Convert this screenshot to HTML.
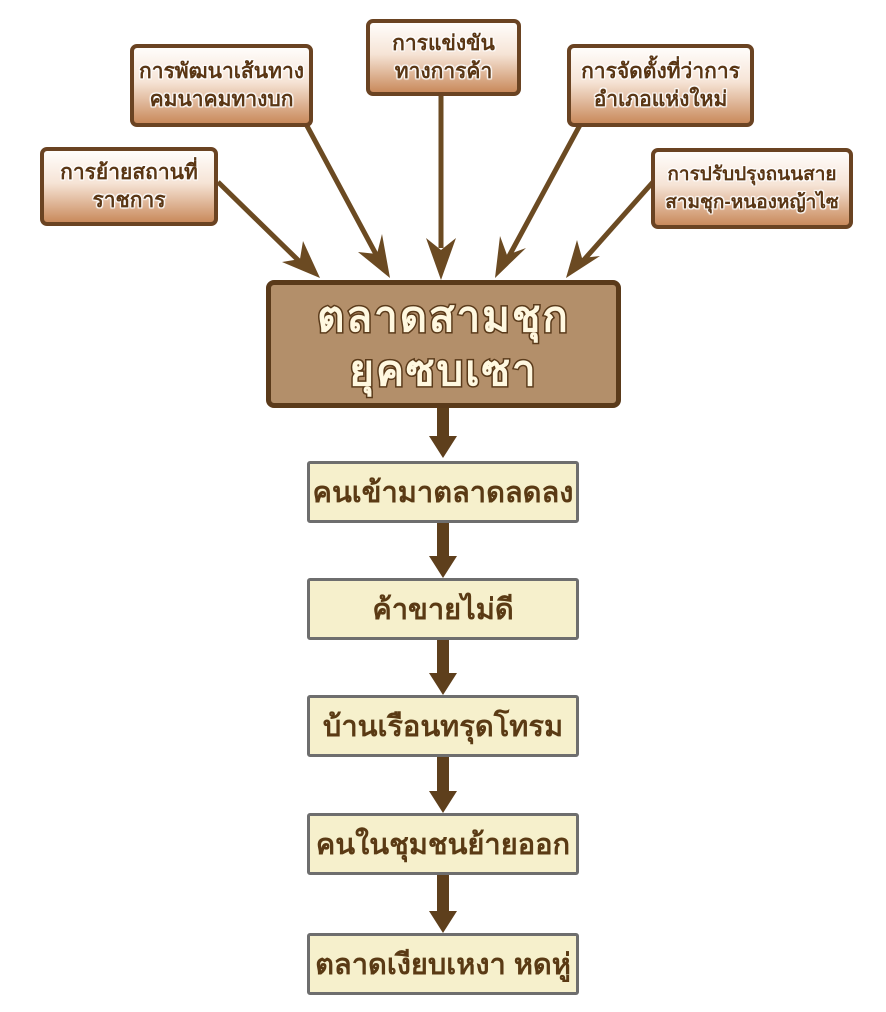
<!DOCTYPE html>
<html><head><meta charset="utf-8"><style>
body{margin:0;width:886px;height:1012px;background:#fff;position:relative;overflow:hidden;font-family:"Liberation Sans","Noto Sans CJK SC",sans-serif}
.t{position:absolute;box-sizing:border-box;border:4px solid #6a4322;border-radius:7px;background:linear-gradient(#fffdfb 0%,#f6e4d6 45%,#c98a5c 100%);display:flex;align-items:center;justify-content:center;text-align:center;font-weight:bold;font-size:21px;line-height:28px;color:#5a3614;text-shadow:0 0 2px #fff,0 0 2px #fff,1px 1px 1px #fff,-1px -1px 1px #fff,1px -1px 1px #fff,-1px 1px 1px #fff;white-space:nowrap}
.m{position:absolute;left:266px;top:280px;width:355px;height:128px;box-sizing:border-box;border:5px solid #5a3a1a;border-radius:8px;background:#b38f6a;display:flex;align-items:center;justify-content:center;text-align:center;font-weight:bold;font-size:42px;line-height:54px;color:#fff8e0;-webkit-text-stroke:3px #5a3a1a;paint-order:stroke fill;letter-spacing:2px}
.b{position:absolute;left:307px;width:272px;height:62px;box-sizing:border-box;border:3px solid #6e6e6e;border-radius:3px;background:#f6f0cc;display:flex;align-items:center;justify-content:center;font-weight:bold;font-size:29px;color:#5a3a14;white-space:nowrap}
svg{position:absolute;left:0;top:0}
</style></head><body>
<svg width="886" height="1012">
<g stroke="#6b4a22" stroke-width="5" fill="none">
<line x1="218" y1="182" x2="300" y2="262"/>
<line x1="306" y1="124" x2="378" y2="258"/>
<line x1="441" y1="94" x2="441" y2="248"/>
<line x1="580" y1="125" x2="508" y2="258"/>
<line x1="653" y1="182" x2="582" y2="262"/>
</g>
<g fill="#6b4a22">
<path d="M320 278 L282 262 L300 259 L303 241 Z"/>
<path d="M390 278 L358 252 L377 254 L382 234 Z"/>
<path d="M441 280 L426 238 L441 250 L456 238 Z"/>
<path d="M495 278 L500 236 L507 255 L526 248 Z"/>
<path d="M566 278 L577 240 L582 258 L600 256 Z"/>
</g>
<g fill="#5e3f1c">
<rect x="437" y="407" width="12" height="30"/><path d="M429 436 L457 436 L443 458 Z"/>
<rect x="437" y="522" width="12" height="36"/><path d="M429 556 L457 556 L443 578 Z"/>
<rect x="437" y="640" width="12" height="36"/><path d="M429 673 L457 673 L443 695 Z"/>
<rect x="437" y="757" width="12" height="36"/><path d="M429 791 L457 791 L443 813 Z"/>
<rect x="437" y="874" width="12" height="38"/><path d="M429 911 L457 911 L443 933 Z"/>
</g>
</svg>
<div class="t" style="left:40px;top:147px;width:178px;height:79px">การย้ายสถานที่<br>ราชการ</div>
<div class="t" style="left:130px;top:44px;width:183px;height:83px">การพัฒนาเส้นทาง<br>คมนาคมทางบก</div>
<div class="t" style="left:366px;top:19px;width:155px;height:77px">การแข่งขัน<br>ทางการค้า</div>
<div class="t" style="left:567px;top:44px;width:187px;height:83px">การจัดตั้งที่ว่าการ<br>อำเภอแห่งใหม่</div>
<div class="t" style="left:651px;top:148px;width:202px;height:81px;font-size:19px">การปรับปรุงถนนสาย<br>สามชุก-หนองหญ้าไซ</div>
<div class="m">ตลาดสามชุก<br>ยุคซบเซา</div>
<div class="b" style="top:461px">คนเข้ามาตลาดลดลง</div>
<div class="b" style="top:578px">ค้าขายไม่ดี</div>
<div class="b" style="top:695px">บ้านเรือนทรุดโทรม</div>
<div class="b" style="top:813px">คนในชุมชนย้ายออก</div>
<div class="b" style="top:933px">ตลาดเงียบเหงา หดหู่</div>
</body></html>
